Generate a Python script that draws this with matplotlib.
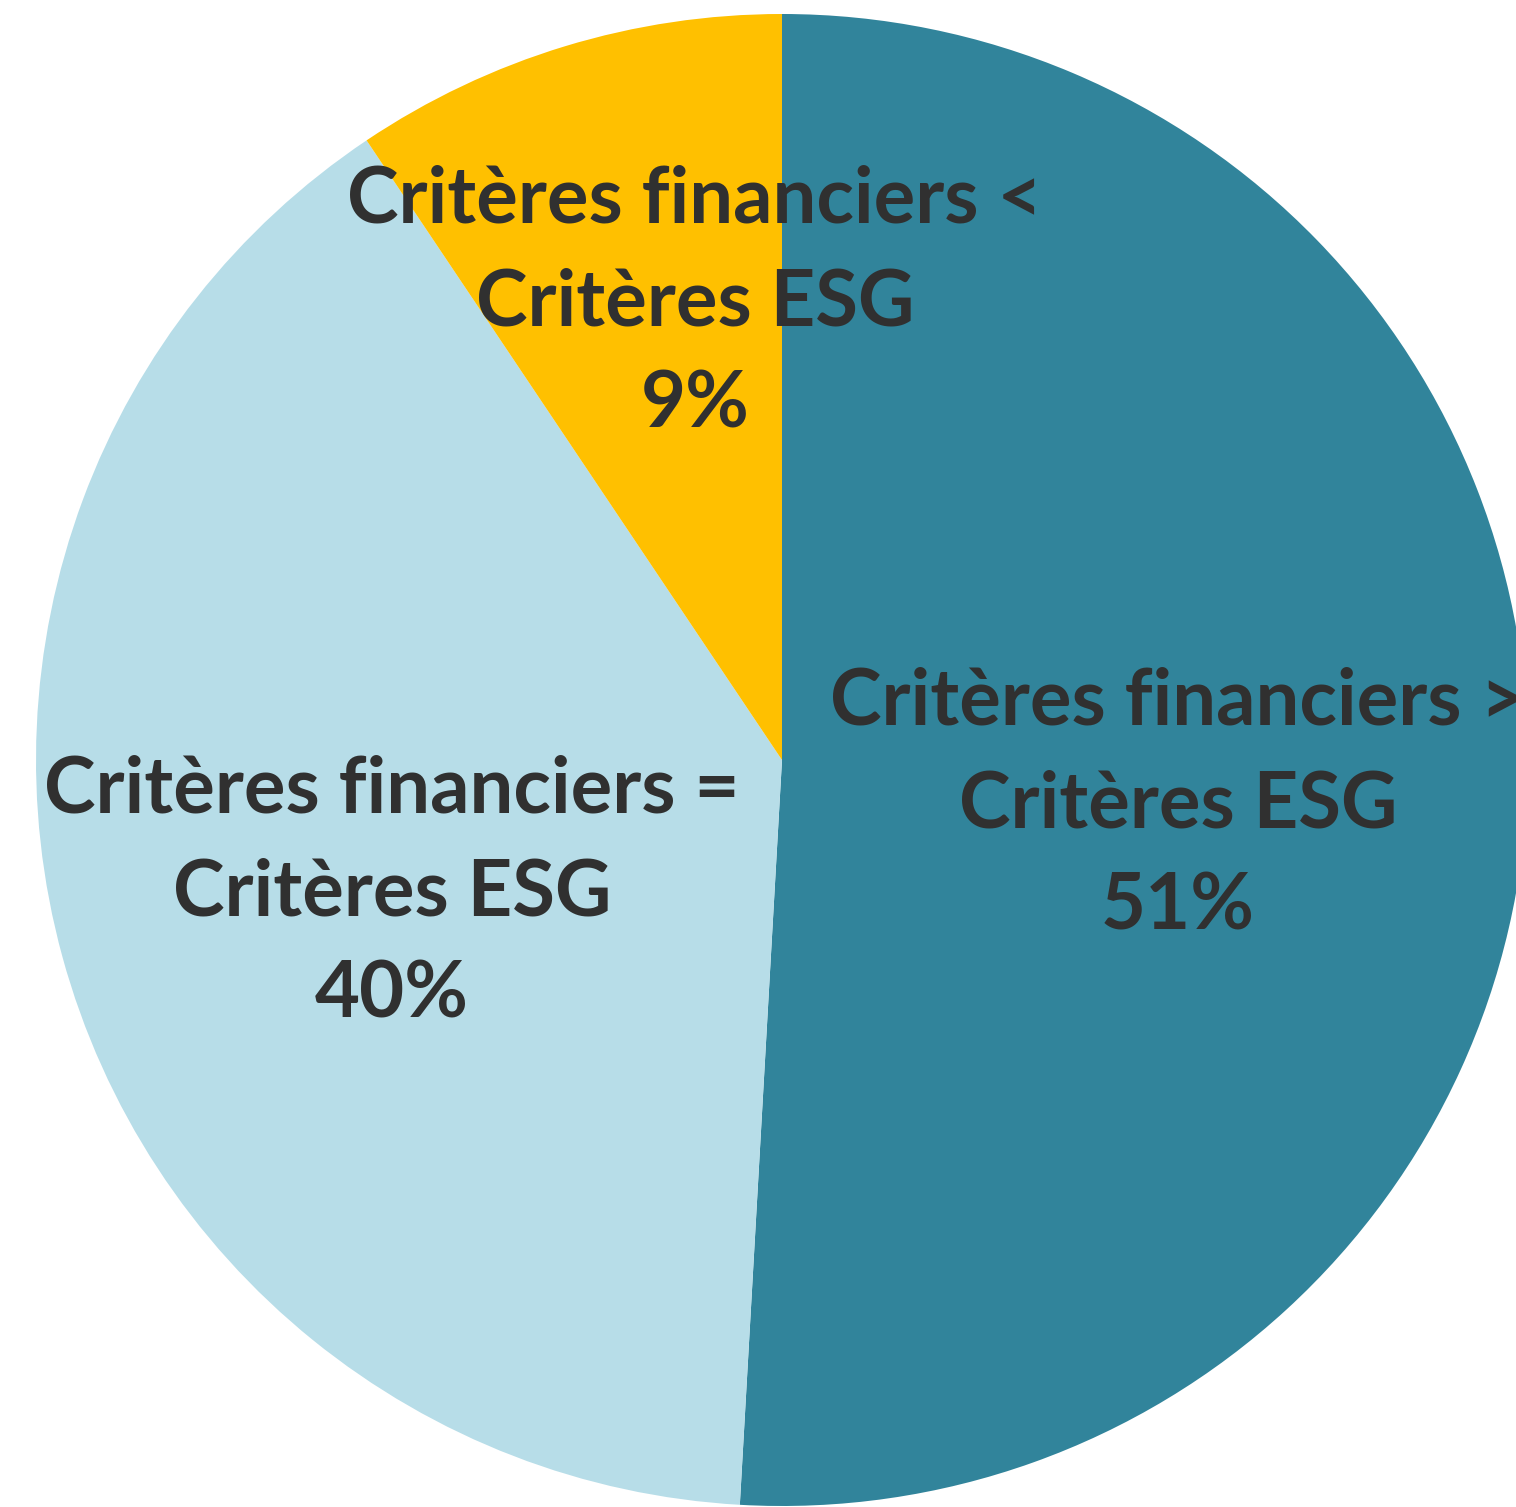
import matplotlib.pyplot as plt

# share of respondents
categories = [
    "Critères financiers >\nCritères ESG",
    "Critères financiers =\nCritères ESG",
    "Critères financiers <\nCritères ESG",
]
shares = [50.9, 39.7, 9.4]
pct_labels = ["51%", "40%", "9%"]
colors = ["#31849B", "#B7DDE8", "#FFC000"]

W, H = 1516, 1507
# label centres in pixel coords (origin top-left)
label_pos = [(1178, 805), (392, 893), (695, 303)]

fig = plt.figure(figsize=(W / 100, H / 100), dpi=100)
ax = fig.add_axes([0, 0, 1, 1])

ax.pie(
    shares,
    colors=colors,
    startangle=90,
    counterclock=False,
    center=(782, H - 760),
    radius=746,
    wedgeprops=dict(linewidth=0),
    frame=True,
)
ax.set_xlim(0, W)
ax.set_ylim(0, H)
ax.set_aspect("equal")
ax.axis("off")

for cat, pct, (x, y) in zip(categories, pct_labels, label_pos):
    ax.text(
        x, H - y, f"{cat}\n{pct}",
        ha="center", va="center", multialignment="center",
        fontsize=56, fontweight="bold", family="Lato",
        color="#303030", linespacing=1.53,
    )

fig.savefig("out.png", dpi=100)
